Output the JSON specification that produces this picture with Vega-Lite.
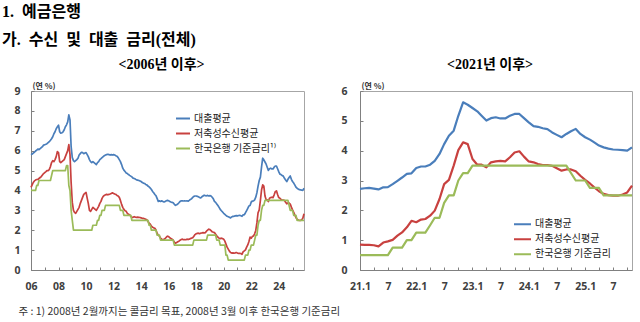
{
"$schema":"https://vega.github.io/schema/vega-lite/v6.json",
"padding":{"left":2,"top":3,"right":0,"bottom":0},
"bounds":"flush",
"spacing":56,
"title":{"text":"1.\u2002예금은행","subtitle":"가.\u2002수신\u2002및\u2002대출\u2002금리(전체)","anchor":"start","frame":"group","dx":-29,"font":"Liberation Serif, Noto Sans CJK KR","fontSize":16,"fontWeight":"bold","color":"#000","subtitleFont":"Liberation Serif, Noto Sans CJK KR","subtitleFontSize":16,"subtitleFontWeight":"bold","subtitleColor":"#000","subtitlePadding":12,"offset":10},
"datasets":{"r":[
{"d":"2006-01","L":5.80,"D":4.15,"B":4},{"d":"2006-02","L":5.83,"D":4.28,"B":4},{"d":"2006-03","L":5.88,"D":4.40,"B":4},{"d":"2006-04","L":5.92,"D":4.48,"B":4},{"d":"2006-05","L":5.98,"D":4.52,"B":4},{"d":"2006-06","L":6.02,"D":4.55,"B":4.25},{"d":"2006-07","L":6.08,"D":4.55,"B":4.25},{"d":"2006-08","L":6.05,"D":4.60,"B":4.5},{"d":"2006-09","L":6.10,"D":4.65,"B":4.5},{"d":"2006-10","L":6.15,"D":4.70,"B":4.5},{"d":"2006-11","L":6.20,"D":4.78,"B":4.5},{"d":"2006-12","L":6.28,"D":4.85,"B":4.5},
{"d":"2007-01","L":6.30,"D":4.90,"B":4.5},{"d":"2007-02","L":6.32,"D":4.95,"B":4.5},{"d":"2007-03","L":6.35,"D":5.00,"B":4.5},{"d":"2007-04","L":6.40,"D":5.00,"B":4.5},{"d":"2007-05","L":6.45,"D":5.05,"B":4.5},{"d":"2007-06","L":6.52,"D":5.20,"B":4.5},{"d":"2007-07","L":6.60,"D":5.40,"B":4.75},{"d":"2007-08","L":6.70,"D":5.50,"B":5},{"d":"2007-09","L":6.85,"D":5.45,"B":5},{"d":"2007-10","L":6.95,"D":5.55,"B":5},{"d":"2007-11","L":7.10,"D":5.70,"B":5},{"d":"2007-12","L":7.20,"D":5.95,"B":5},
{"d":"2008-01","L":7.28,"D":5.90,"B":5},{"d":"2008-02","L":6.95,"D":5.45,"B":5},{"d":"2008-03","L":6.88,"D":5.40,"B":5},{"d":"2008-04","L":6.90,"D":5.45,"B":5},{"d":"2008-05","L":6.95,"D":5.50,"B":5},{"d":"2008-06","L":7.05,"D":5.55,"B":5},{"d":"2008-07","L":7.20,"D":5.70,"B":5},{"d":"2008-08","L":7.30,"D":5.85,"B":5.25},{"d":"2008-09","L":7.45,"D":6.00,"B":5.25},{"d":"2008-10","L":7.80,"D":6.30,"B":4.25},{"d":"2008-11","L":7.55,"D":5.80,"B":4},{"d":"2008-12","L":6.20,"D":4.40,"B":3},
{"d":"2009-01","L":5.65,"D":3.40,"B":2.5},{"d":"2009-02","L":5.50,"D":3.00,"B":2},{"d":"2009-03","L":5.45,"D":2.90,"B":2},{"d":"2009-04","L":5.50,"D":2.85,"B":2},{"d":"2009-05","L":5.55,"D":2.95,"B":2},{"d":"2009-06","L":5.62,"D":3.05,"B":2},{"d":"2009-07","L":5.78,"D":3.15,"B":2},{"d":"2009-08","L":5.85,"D":3.35,"B":2},{"d":"2009-09","L":5.92,"D":3.50,"B":2},{"d":"2009-10","L":5.90,"D":3.65,"B":2},{"d":"2009-11","L":5.85,"D":3.80,"B":2},{"d":"2009-12","L":5.88,"D":3.85,"B":2},
{"d":"2010-01","L":5.90,"D":3.90,"B":2},{"d":"2010-02","L":5.80,"D":3.60,"B":2},{"d":"2010-03","L":5.70,"D":3.35,"B":2},{"d":"2010-04","L":5.55,"D":3.00,"B":2},{"d":"2010-05","L":5.45,"D":2.95,"B":2},{"d":"2010-06","L":5.40,"D":3.05,"B":2},{"d":"2010-07","L":5.45,"D":3.15,"B":2.25},{"d":"2010-08","L":5.40,"D":3.10,"B":2.25},{"d":"2010-09","L":5.35,"D":3.05,"B":2.25},{"d":"2010-10","L":5.30,"D":3.00,"B":2.25},{"d":"2010-11","L":5.40,"D":3.10,"B":2.5},{"d":"2010-12","L":5.45,"D":3.20,"B":2.5},
{"d":"2011-01","L":5.55,"D":3.35,"B":2.75},{"d":"2011-02","L":5.60,"D":3.45,"B":2.75},{"d":"2011-03","L":5.65,"D":3.60,"B":3},{"d":"2011-04","L":5.70,"D":3.70,"B":3},{"d":"2011-05","L":5.75,"D":3.75,"B":3},{"d":"2011-06","L":5.78,"D":3.78,"B":3.25},{"d":"2011-07","L":5.80,"D":3.80,"B":3.25},{"d":"2011-08","L":5.82,"D":3.78,"B":3.25},{"d":"2011-09","L":5.80,"D":3.80,"B":3.25},{"d":"2011-10","L":5.78,"D":3.82,"B":3.25},{"d":"2011-11","L":5.80,"D":3.85,"B":3.25},{"d":"2011-12","L":5.78,"D":3.88,"B":3.25},
{"d":"2012-01","L":5.80,"D":3.85,"B":3.25},{"d":"2012-02","L":5.78,"D":3.82,"B":3.25},{"d":"2012-03","L":5.75,"D":3.80,"B":3.25},{"d":"2012-04","L":5.72,"D":3.75,"B":3.25},{"d":"2012-05","L":5.65,"D":3.72,"B":3.25},{"d":"2012-06","L":5.55,"D":3.65,"B":3.25},{"d":"2012-07","L":5.45,"D":3.50,"B":3},{"d":"2012-08","L":5.30,"D":3.30,"B":3},{"d":"2012-09","L":5.12,"D":3.15,"B":3},{"d":"2012-10","L":5.02,"D":3.05,"B":2.75},{"d":"2012-11","L":4.95,"D":2.98,"B":2.75},{"d":"2012-12","L":4.88,"D":2.95,"B":2.75},
{"d":"2013-01","L":4.85,"D":2.85,"B":2.75},{"d":"2013-02","L":4.80,"D":2.80,"B":2.75},{"d":"2013-03","L":4.76,"D":2.78,"B":2.75},{"d":"2013-04","L":4.72,"D":2.70,"B":2.75},{"d":"2013-05","L":4.68,"D":2.65,"B":2.5},{"d":"2013-06","L":4.62,"D":2.65,"B":2.5},{"d":"2013-07","L":4.60,"D":2.68,"B":2.5},{"d":"2013-08","L":4.57,"D":2.66,"B":2.5},{"d":"2013-09","L":4.53,"D":2.65,"B":2.5},{"d":"2013-10","L":4.52,"D":2.66,"B":2.5},{"d":"2013-11","L":4.50,"D":2.65,"B":2.5},{"d":"2013-12","L":4.48,"D":2.64,"B":2.5},
{"d":"2014-01","L":4.45,"D":2.62,"B":2.5},{"d":"2014-02","L":4.40,"D":2.60,"B":2.5},{"d":"2014-03","L":4.37,"D":2.60,"B":2.5},{"d":"2014-04","L":4.35,"D":2.58,"B":2.5},{"d":"2014-05","L":4.30,"D":2.55,"B":2.5},{"d":"2014-06","L":4.28,"D":2.52,"B":2.5},{"d":"2014-07","L":4.22,"D":2.45,"B":2.5},{"d":"2014-08","L":4.18,"D":2.35,"B":2.25},{"d":"2014-09","L":4.12,"D":2.30,"B":2.25},{"d":"2014-10","L":4.05,"D":2.20,"B":2},{"d":"2014-11","L":3.95,"D":2.15,"B":2},{"d":"2014-12","L":3.88,"D":2.12,"B":2},
{"d":"2015-01","L":3.80,"D":2.10,"B":2},{"d":"2015-02","L":3.73,"D":2.00,"B":2},{"d":"2015-03","L":3.60,"D":1.85,"B":1.75},{"d":"2015-04","L":3.45,"D":1.75,"B":1.75},{"d":"2015-05","L":3.48,"D":1.70,"B":1.75},{"d":"2015-06","L":3.45,"D":1.60,"B":1.5},{"d":"2015-07","L":3.48,"D":1.55,"B":1.5},{"d":"2015-08","L":3.45,"D":1.52,"B":1.5},{"d":"2015-09","L":3.42,"D":1.55,"B":1.5},{"d":"2015-10","L":3.45,"D":1.58,"B":1.5},{"d":"2015-11","L":3.48,"D":1.65,"B":1.5},{"d":"2015-12","L":3.50,"D":1.70,"B":1.5},
{"d":"2016-01","L":3.48,"D":1.68,"B":1.5},{"d":"2016-02","L":3.45,"D":1.62,"B":1.5},{"d":"2016-03","L":3.42,"D":1.58,"B":1.5},{"d":"2016-04","L":3.40,"D":1.55,"B":1.5},{"d":"2016-05","L":3.38,"D":1.50,"B":1.5},{"d":"2016-06","L":3.30,"D":1.40,"B":1.25},{"d":"2016-07","L":3.25,"D":1.35,"B":1.25},{"d":"2016-08","L":3.28,"D":1.38,"B":1.25},{"d":"2016-09","L":3.32,"D":1.42,"B":1.25},{"d":"2016-10","L":3.38,"D":1.45,"B":1.25},{"d":"2016-11","L":3.45,"D":1.50,"B":1.25},{"d":"2016-12","L":3.48,"D":1.53,"B":1.25},
{"d":"2017-01","L":3.48,"D":1.55,"B":1.25},{"d":"2017-02","L":3.47,"D":1.52,"B":1.25},{"d":"2017-03","L":3.48,"D":1.53,"B":1.25},{"d":"2017-04","L":3.47,"D":1.52,"B":1.25},{"d":"2017-05","L":3.48,"D":1.55,"B":1.25},{"d":"2017-06","L":3.46,"D":1.53,"B":1.25},{"d":"2017-07","L":3.50,"D":1.55,"B":1.25},{"d":"2017-08","L":3.55,"D":1.58,"B":1.25},{"d":"2017-09","L":3.58,"D":1.60,"B":1.25},{"d":"2017-10","L":3.65,"D":1.62,"B":1.25},{"d":"2017-11","L":3.70,"D":1.70,"B":1.5},{"d":"2017-12","L":3.72,"D":1.78,"B":1.5},
{"d":"2018-01","L":3.72,"D":1.82,"B":1.5},{"d":"2018-02","L":3.70,"D":1.84,"B":1.5},{"d":"2018-03","L":3.68,"D":1.85,"B":1.5},{"d":"2018-04","L":3.65,"D":1.83,"B":1.5},{"d":"2018-05","L":3.62,"D":1.85,"B":1.5},{"d":"2018-06","L":3.68,"D":1.86,"B":1.5},{"d":"2018-07","L":3.72,"D":1.88,"B":1.5},{"d":"2018-08","L":3.76,"D":1.87,"B":1.5},{"d":"2018-09","L":3.74,"D":1.88,"B":1.5},{"d":"2018-10","L":3.73,"D":1.95,"B":1.5},{"d":"2018-11","L":3.75,"D":2.00,"B":1.75},{"d":"2018-12","L":3.72,"D":2.05,"B":1.75},
{"d":"2019-01","L":3.74,"D":2.03,"B":1.75},{"d":"2019-02","L":3.72,"D":1.98,"B":1.75},{"d":"2019-03","L":3.66,"D":1.92,"B":1.75},{"d":"2019-04","L":3.58,"D":1.90,"B":1.75},{"d":"2019-05","L":3.45,"D":1.88,"B":1.75},{"d":"2019-06","L":3.40,"D":1.80,"B":1.75},{"d":"2019-07","L":3.32,"D":1.72,"B":1.5},{"d":"2019-08","L":3.24,"D":1.65,"B":1.5},{"d":"2019-09","L":3.15,"D":1.60,"B":1.5},{"d":"2019-10","L":3.05,"D":1.58,"B":1.25},{"d":"2019-11","L":2.98,"D":1.60,"B":1.25},{"d":"2019-12","L":2.92,"D":1.58,"B":1.25},
{"d":"2020-01","L":2.85,"D":1.55,"B":1.25},{"d":"2020-02","L":2.80,"D":1.45,"B":1.25},{"d":"2020-03","L":2.75,"D":1.30,"B":0.75},{"d":"2020-04","L":2.70,"D":1.15,"B":0.75},{"d":"2020-05","L":2.68,"D":1.05,"B":0.5},{"d":"2020-06","L":2.65,"D":0.95,"B":0.5},{"d":"2020-07","L":2.62,"D":0.88,"B":0.5},{"d":"2020-08","L":2.67,"D":0.85,"B":0.5},{"d":"2020-09","L":2.70,"D":0.86,"B":0.5},{"d":"2020-10","L":2.70,"D":0.85,"B":0.5},{"d":"2020-11","L":2.72,"D":0.86,"B":0.5},{"d":"2020-12","L":2.73,"D":0.88,"B":0.5},
{"d":"2021-01","L":2.72,"D":0.85,"B":0.5},{"d":"2021-02","L":2.74,"D":0.84,"B":0.5},{"d":"2021-03","L":2.75,"D":0.84,"B":0.5},{"d":"2021-04","L":2.73,"D":0.83,"B":0.5},{"d":"2021-05","L":2.70,"D":0.79,"B":0.5},{"d":"2021-06","L":2.77,"D":0.92,"B":0.5},{"d":"2021-07","L":2.78,"D":0.96,"B":0.5},{"d":"2021-08","L":2.88,"D":1.01,"B":0.75},{"d":"2021-09","L":2.99,"D":1.15,"B":0.75},{"d":"2021-10","L":3.10,"D":1.26,"B":0.75},{"d":"2021-11","L":3.22,"D":1.43,"B":1},{"d":"2021-12","L":3.24,"D":1.65,"B":1},
{"d":"2022-01","L":3.42,"D":1.60,"B":1.25},{"d":"2022-02","L":3.47,"D":1.69,"B":1.25},{"d":"2022-03","L":3.47,"D":1.71,"B":1.25},{"d":"2022-04","L":3.53,"D":1.82,"B":1.5},{"d":"2022-05","L":3.66,"D":1.99,"B":1.75},{"d":"2022-06","L":3.89,"D":2.38,"B":1.75},{"d":"2022-07","L":4.22,"D":2.88,"B":2.25},{"d":"2022-08","L":4.50,"D":3.02,"B":2.5},{"d":"2022-09","L":4.67,"D":3.50,"B":2.5},{"d":"2022-10","L":5.17,"D":4.02,"B":3},{"d":"2022-11","L":5.62,"D":4.28,"B":3.25},{"d":"2022-12","L":5.54,"D":4.22,"B":3.25},
{"d":"2023-01","L":5.43,"D":3.72,"B":3.5},{"d":"2023-02","L":5.32,"D":3.53,"B":3.5},{"d":"2023-03","L":5.17,"D":3.53,"B":3.5},{"d":"2023-04","L":5.01,"D":3.44,"B":3.5},{"d":"2023-05","L":5.09,"D":3.61,"B":3.5},{"d":"2023-06","L":5.12,"D":3.64,"B":3.5},{"d":"2023-07","L":5.08,"D":3.66,"B":3.5},{"d":"2023-08","L":5.08,"D":3.64,"B":3.5},{"d":"2023-09","L":5.17,"D":3.78,"B":3.5},{"d":"2023-10","L":5.23,"D":3.94,"B":3.5},{"d":"2023-11","L":5.23,"D":3.98,"B":3.5},{"d":"2023-12","L":5.09,"D":3.80,"B":3.5},
{"d":"2024-01","L":4.95,"D":3.64,"B":3.5},{"d":"2024-02","L":4.82,"D":3.61,"B":3.5},{"d":"2024-03","L":4.80,"D":3.55,"B":3.5},{"d":"2024-04","L":4.75,"D":3.52,"B":3.5},{"d":"2024-05","L":4.72,"D":3.52,"B":3.5},{"d":"2024-06","L":4.61,"D":3.49,"B":3.5},{"d":"2024-07","L":4.53,"D":3.41,"B":3.5},{"d":"2024-08","L":4.45,"D":3.33,"B":3.5},{"d":"2024-09","L":4.56,"D":3.37,"B":3.5},{"d":"2024-10","L":4.65,"D":3.37,"B":3.25},{"d":"2024-11","L":4.73,"D":3.31,"B":3},{"d":"2024-12","L":4.56,"D":3.16,"B":3},
{"d":"2025-01","L":4.45,"D":3.02,"B":3},{"d":"2025-02","L":4.37,"D":2.90,"B":2.75},{"d":"2025-03","L":4.28,"D":2.77,"B":2.75},{"d":"2025-04","L":4.17,"D":2.64,"B":2.75},{"d":"2025-05","L":4.11,"D":2.55,"B":2.5},{"d":"2025-06","L":4.07,"D":2.51,"B":2.5},{"d":"2025-07","L":4.04,"D":2.49,"B":2.5},{"d":"2025-08","L":4.03,"D":2.49,"B":2.5},{"d":"2025-09","L":4.02,"D":2.53,"B":2.5},{"d":"2025-10","L":4.00,"D":2.60,"B":2.5},{"d":"2025-11","L":4.11,"D":2.83,"B":2.5}
]},
"hconcat":[
{
"width":273,"height":179,
"title":{"text":"<2006년 이후>","dx":-6},
"data":{"name":"r"},
"transform":[{"fold":["L","D","B"],"as":["k","v"]}],
"mark":{"type":"line","strokeWidth":1.7,"strokeJoin":"round"},
"encoding":{
"x":{"field":"d","type":"temporal","scale":{"type":"utc","domain":[{"year":2006,"month":1,"date":1,"utc":true},{"year":2025,"month":11,"date":1,"utc":true}]},
"axis":{"values":[{"year":2006,"month":1,"date":1,"utc":true},{"year":2007,"month":1,"date":1,"utc":true},{"year":2008,"month":1,"date":1,"utc":true},{"year":2009,"month":1,"date":1,"utc":true},{"year":2010,"month":1,"date":1,"utc":true},{"year":2011,"month":1,"date":1,"utc":true},{"year":2012,"month":1,"date":1,"utc":true},{"year":2013,"month":1,"date":1,"utc":true},{"year":2014,"month":1,"date":1,"utc":true},{"year":2015,"month":1,"date":1,"utc":true},{"year":2016,"month":1,"date":1,"utc":true},{"year":2017,"month":1,"date":1,"utc":true},{"year":2018,"month":1,"date":1,"utc":true},{"year":2019,"month":1,"date":1,"utc":true},{"year":2020,"month":1,"date":1,"utc":true},{"year":2021,"month":1,"date":1,"utc":true},{"year":2022,"month":1,"date":1,"utc":true},{"year":2023,"month":1,"date":1,"utc":true},{"year":2024,"month":1,"date":1,"utc":true},{"year":2025,"month":1,"date":1,"utc":true}],
"labelExpr":"utcyear(datum.value) % 2 == 0 ? utcFormat(datum.value, '%y') : ''","labelPadding":14,
"title":"주 : 1) 2008년 2월까지는 콜금리 목표, 2008년 3월 이후 한국은행 기준금리","titleX":-13,"titleY":44,"titleAlign":"left","titleAnchor":"start","titleBaseline":"alphabetic","titleFont":"Noto Sans CJK KR","titleFontSize":10.5,"titleFontWeight":"normal","titleColor":"#333"}},
"y":{"field":"v","type":"quantitative","scale":{"domain":[0,9],"nice":false,"zero":true},
"axis":{"values":[0,1,2,3,4,5,6,7,8,9],"title":"(연 %)","titleAngle":0,"titleX":1,"titleY":-3,"titleAlign":"left","titleAnchor":"start","titleBaseline":"alphabetic","titleFont":"Noto Sans CJK KR","titleFontSize":8,"titleFontWeight":"bold","titleColor":"#333","labelPadding":14}},
"color":{"field":"k","type":"nominal","scale":{"domain":["L","D","B"],"range":["#4a7ebb","#c8413f","#9bbb59"]},
"legend":{"orient":"none","legendX":144,"legendY":20,"title":null,"symbolSize":196,"clipHeight":15,"labelExpr":"{'L':'대출평균','D':'저축성수신평균','B':'한국은행 기준금리¹⁾'}[datum.value]"}}
}
},
{
"width":272,"height":179,
"title":{"text":"<2021년 이후>","dx":-6},
"data":{"name":"r"},
"transform":[{"filter":{"field":"d","gte":{"year":2021,"month":1,"date":1,"utc":true}}},{"fold":["L","D","B"],"as":["k","v"]}],
"mark":{"type":"line","strokeWidth":2.2,"strokeJoin":"round"},
"encoding":{
"x":{"field":"d","type":"temporal","scale":{"type":"utc","domain":[{"year":2021,"month":1,"date":1,"utc":true},{"year":2025,"month":11,"date":1,"utc":true}]},
"axis":{"values":[{"year":2021,"month":1,"date":1,"utc":true},{"year":2021,"month":4,"date":1,"utc":true},{"year":2021,"month":7,"date":1,"utc":true},{"year":2021,"month":10,"date":1,"utc":true},{"year":2022,"month":1,"date":1,"utc":true},{"year":2022,"month":4,"date":1,"utc":true},{"year":2022,"month":7,"date":1,"utc":true},{"year":2022,"month":10,"date":1,"utc":true},{"year":2023,"month":1,"date":1,"utc":true},{"year":2023,"month":4,"date":1,"utc":true},{"year":2023,"month":7,"date":1,"utc":true},{"year":2023,"month":10,"date":1,"utc":true},{"year":2024,"month":1,"date":1,"utc":true},{"year":2024,"month":4,"date":1,"utc":true},{"year":2024,"month":7,"date":1,"utc":true},{"year":2024,"month":10,"date":1,"utc":true},{"year":2025,"month":1,"date":1,"utc":true},{"year":2025,"month":4,"date":1,"utc":true},{"year":2025,"month":7,"date":1,"utc":true},{"year":2025,"month":10,"date":1,"utc":true}],
"labelExpr":"utcmonth(datum.value) == 0 ? utcFormat(datum.value, '%y') + '.1' : (utcmonth(datum.value) == 6 ? '7' : '')","labelPadding":14,
"title":null}},
"y":{"field":"v","type":"quantitative","scale":{"domain":[0,6],"nice":false,"zero":true},
"axis":{"values":[0,1,2,3,4,5,6],"title":"(연 %)","titleAngle":0,"titleX":1,"titleY":-3,"titleAlign":"left","titleAnchor":"start","titleBaseline":"alphabetic","titleFont":"Noto Sans CJK KR","titleFontSize":8,"titleFontWeight":"bold","titleColor":"#333","labelPadding":16}},
"color":{"field":"k","type":"nominal","scale":{"domain":["L","D","B"],"range":["#4a7ebb","#c8413f","#9bbb59"]},
"legend":{"orient":"none","legendX":153,"legendY":126,"title":null,"symbolSize":289,"clipHeight":14.5,"labelExpr":"{'L':'대출평균','D':'저축성수신평균','B':'한국은행 기준금리'}[datum.value]"}}
}
}
],
"resolve":{"scale":{"color":"independent","x":"independent","y":"independent"},"legend":{"color":"independent"}},
"config":{
"view":{"stroke":"#a6a6a6","strokeWidth":1},
"title":{"font":"Liberation Serif, Noto Sans CJK KR","fontSize":14,"fontWeight":"bold","color":"#000","anchor":"middle","offset":10},
"axis":{"grid":false,"domainColor":"#808080","tickColor":"#808080","tickSize":-3,"labelFont":"Noto Sans","labelFontSize":10.5,"labelFontWeight":"bold","labelColor":"#404040","labelAngle":0,"labelOverlap":false,"labelFlush":false,"labelPadding":10},
"legend":{"symbolType":"stroke","symbolStrokeWidth":2,"labelFont":"Noto Sans CJK KR","labelFontSize":10,"labelColor":"#222","padding":0,"rowPadding":0,"labelOffset":3}
}
}
